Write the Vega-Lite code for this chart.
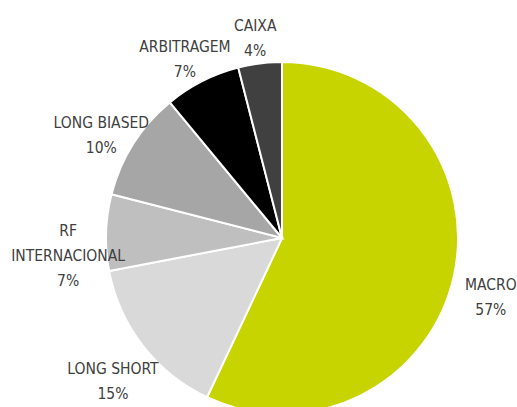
{
  "$schema": "https://vega.github.io/schema/vega-lite/v6.json",
  "autosize": {"type": "none"},
  "width": 470,
  "height": 336,
  "padding": {"left": 47, "top": 70, "right": 0, "bottom": 1},
  "background": "white",
  "data": {
    "values": [
      {"strategy": "MACRO", "value": 57, "order": 1, "label": "MACRO\n57%"},
      {"strategy": "LONG SHORT", "value": 15, "order": 2, "label": "LONG SHORT\n15%"},
      {"strategy": "RF INTERNACIONAL", "value": 7, "order": 3, "label": "RF\nINTERNACIONAL\n7%"},
      {"strategy": "LONG BIASED", "value": 10, "order": 4, "label": "LONG BIASED\n10%"},
      {"strategy": "ARBITRAGEM", "value": 7, "order": 5, "label": "ARBITRAGEM\n7%"},
      {"strategy": "CAIXA", "value": 4, "order": 6, "label": "CAIXA\n4%"}
    ]
  },
  "encoding": {
    "theta": {"field": "value", "type": "quantitative", "stack": true},
    "order": {"field": "order", "type": "quantitative"}
  },
  "layer": [
    {
      "mark": {"type": "arc", "outerRadius": 176, "stroke": "white", "strokeWidth": 2},
      "encoding": {
        "color": {
          "field": "strategy",
          "type": "nominal",
          "scale": {
            "domain": ["MACRO", "LONG SHORT", "RF INTERNACIONAL", "LONG BIASED", "ARBITRAGEM", "CAIXA"],
            "range": ["#c8d400", "#d9d9d9", "#bfbfbf", "#a6a6a6", "#000000", "#404040"]
          },
          "legend": null
        }
      }
    },
    {
      "mark": {"type": "text", "radius": 214, "font": "DejaVu Sans Condensed", "fontSize": 15.5, "color": "#404040", "lineBreak": "\n", "lineHeight": 25, "align": "center", "baseline": "middle"},
      "encoding": {
        "text": {"field": "label", "type": "nominal"}
      }
    }
  ],
  "config": {"view": {"stroke": null}}
}
